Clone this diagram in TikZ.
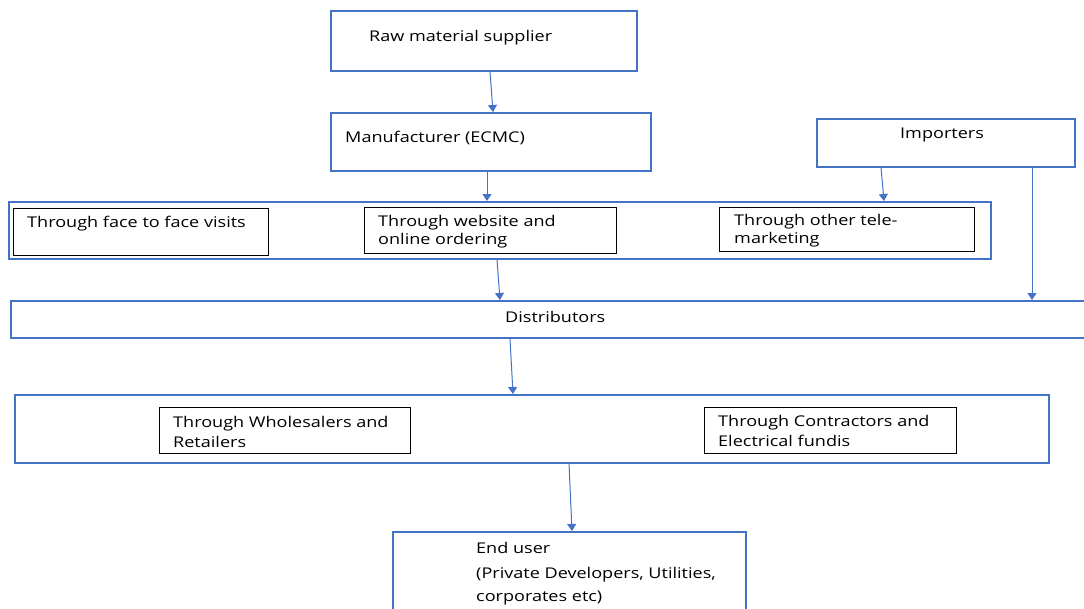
\documentclass[tikz,border=0pt]{standalone}
\usepackage{fontspec}
\setmainfont[FakeStretch=1.22]{Open Sans}
\usetikzlibrary{arrows.meta}
\definecolor{bl}{HTML}{4472C4}
\tikzset{
  bbox/.style={draw=bl, line width=1.6pt, inner sep=0pt, anchor=north west},
  kbox/.style={draw=black, line width=1.2pt, inner sep=0pt, anchor=north west},
  txt/.style={anchor=west, inner sep=0pt, font=\fontsize{14.8}{18}\selectfont, align=left},
  ktxt/.style={anchor=west, inner sep=0pt, font=\fontsize{14.8}{20}\selectfont, align=left},
  arr/.style={draw=bl, line width=1pt, -{Triangle[width=9pt,length=7pt]}},
}
\begin{document}
\begin{tikzpicture}[x=1pt,y=-1pt]
\useasboundingbox (0,0) rectangle (1084,608);
% boxes
\node[bbox, minimum width=306pt, minimum height=60pt] (raw) at (330,10) {};
\node[bbox, minimum width=320pt, minimum height=58pt] (man) at (330,112) {};
\node[bbox, minimum width=258pt, minimum height=48pt] (imp) at (816,118) {};
\node[bbox, minimum width=982pt, minimum height=57pt] (chan) at (8,201) {};
\node[kbox, minimum width=255pt, minimum height=47pt] (face) at (13,208) {};
\node[kbox, minimum width=252pt, minimum height=46pt] (web) at (364,207) {};
\node[kbox, minimum width=255pt, minimum height=44pt] (tele) at (719,207) {};
\node[bbox, minimum width=1080pt, minimum height=37pt] (dist) at (10,300) {};
\node[bbox, minimum width=1034pt, minimum height=68pt] (ret) at (14,394) {};
\node[kbox, minimum width=251pt, minimum height=46pt] (whole) at (159,407) {};
\node[kbox, minimum width=252pt, minimum height=46pt] (cont) at (704,407) {};
\node[bbox, minimum width=353pt, minimum height=90pt] (end) at (392,531) {};
% texts
\node[txt] (rawt) at (369,37.5) {Raw material supplier};
\node[txt] (mant) at (345,138.5) {Manufacturer (ECMC)};
\node[txt] (impt) at (900,135) {Importers};
\node[txt] (facet) at (27,223.5) {Through face to face visits};
\node[txt] (webt) at (378,232) {Through website and\\online ordering};
\node[txt] (telet) at (734,231) {Through other tele-\\marketing};
\node[txt] (distt) at (505,316.5) {Distributors};
\node[ktxt] (wholet) at (173,432) {Through Wholesalers and\\Retailers};
\node[ktxt] (contt) at (718,431) {Through Contractors and\\Electrical fundis};
\node[txt] (endt1) at (476,548) {End user};
\node[txt] (endt2) at (476,586) {(Private Developers, Utilities,\\[5pt]corporates etc)};
% connectors
\coordinate (a1) at (490,70); \coordinate (a2) at (493,112);
\draw[arr] (raw.south -| a1) -- (man.north -| a2);
\draw[arr] (man.south -| 487,0) -- (chan.north -| 487,0);
\draw[arr] (imp.south -| 881,0) -- (chan.north -| 884,0);
\draw[arr] (imp.south -| 1032,0) -- (dist.north -| 1032,0);
\draw[arr] (chan.south -| 497,0) -- (dist.north -| 500,0);
\draw[arr] (dist.south -| 510,0) -- (ret.north -| 513,0);
\draw[arr] (ret.south -| 569,0) -- (end.north -| 572,0);
\end{tikzpicture}
\end{document}
